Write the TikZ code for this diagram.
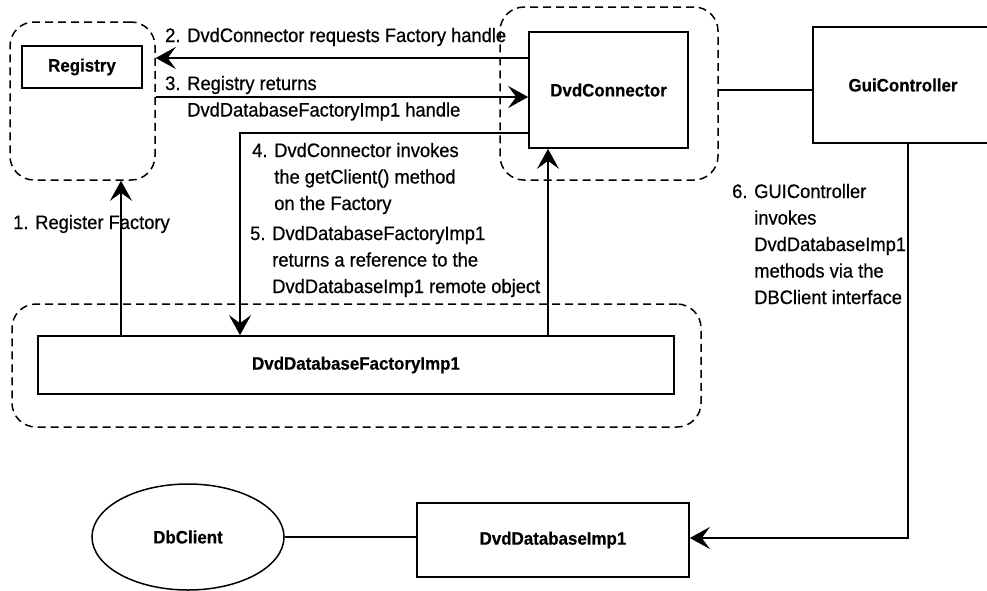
\documentclass[tikz,border=0pt]{standalone}
\usepackage{fontspec}
\setmainfont{Liberation Sans}[FakeStretch=0.94,UprightFeatures={FakeBold=0.6},BoldFeatures={FakeBold=0.4}]
\usetikzlibrary{arrows.meta,shapes.geometric}

% multi-line step text whose baseline is that of its first line
\newcommand{\steptext}[1]{\begin{tabular}[t]{@{}l@{}}#1\end{tabular}}

\begin{document}
\begin{tikzpicture}[x=1pt,y=-1pt,
  box/.style={draw,line width=1.7pt,inner sep=0pt,font=\fontsize{18}{22}\selectfont\bfseries},
  zone/.style={draw,dash pattern=on 8pt off 5pt,line width=1.5pt,rounded corners=24pt,inner sep=0pt},
  wire/.style={line width=2.2pt},
  arr/.style={wire,-{Stealth[length=20pt,width=22pt,inset=8pt]}},
  note/.style={inner sep=0pt,anchor=base west,font=\fontsize{19.5}{26.5}\selectfont},
]
\useasboundingbox (0,0) rectangle (987,590);

% dashed grouping regions
\node[zone,minimum width=145pt,minimum height=158pt] (regzone) at (82.5,101) {};
\node[zone,minimum width=218pt,minimum height=173pt] (dvdzone) at (609,93.5) {};
\node[zone,minimum width=689pt,minimum height=123pt] (faczone) at (356.5,365.5) {};

% components
\node[box,minimum width=120pt,minimum height=42pt] (reg) at (82,67) {Registry};
\node[box,minimum width=159pt,minimum height=116pt] (dvd) at (608.5,90) {DvdConnector};
\node[box,minimum width=180pt,minimum height=116pt] (gui) at (903,85) {GuiController};
\node[box,minimum width=636pt,minimum height=58pt] (fac) at (356,365) {DvdDatabaseFactoryImp1};
\node[box,minimum width=272pt,minimum height=74pt] (imp) at (553,540) {DvdDatabaseImp1};
\node[box,ellipse,line width=1.5pt,minimum width=192pt,minimum height=106pt] (dbc) at (188,537) {DbClient};

% connectors
\draw[arr] (dvd.west |- 0,58) -- (regzone.east |- 0,58);
\draw[arr] (regzone.east |- 0,97) -- (dvd.west |- 0,97);
\draw[arr] (dvd.west |- 0,133) -| (fac.north -| 240,0);
\draw[arr] (fac.north -| 121,0) -- (regzone.south -| 121,0);
\draw[arr] (fac.north -| 548,0) -- (dvd.south -| 548,0);
\draw[wire] (dvdzone.east |- 0,90) -- (gui.west |- 0,90);
\draw[arr] (gui.south -| 908,0) |- (imp.east |- 0,538);
\draw[wire] (dbc.east) -- (imp.west |- dbc.east);

% step labels
\node[note] (n1) at (13,229) {1. Register Factory};
\node[note] (n2) at (165,42) {2. DvdConnector requests Factory handle};
\node[note] (n3) at (165,90) {\steptext{3. Registry returns\\\phantom{3. }DvdDatabaseFactoryImp1 handle}};
\node[note] (n4) at (252,157) {\steptext{4. DvdConnector invokes\\\phantom{4. }the getClient() method\\\phantom{4. }on the Factory}};
\node[note] (n5) at (250,240) {\steptext{5. DvdDatabaseFactoryImp1\\\phantom{5. }returns a reference to the\\\phantom{5. }DvdDatabaseImp1 remote object}};
\node[note] (n6) at (732,198) {\steptext{6. GUIController\\\phantom{6. }invokes\\\phantom{6. }DvdDatabaseImp1\\\phantom{6. }methods via the\\\phantom{6. }DBClient interface}};
\end{tikzpicture}
\end{document}
